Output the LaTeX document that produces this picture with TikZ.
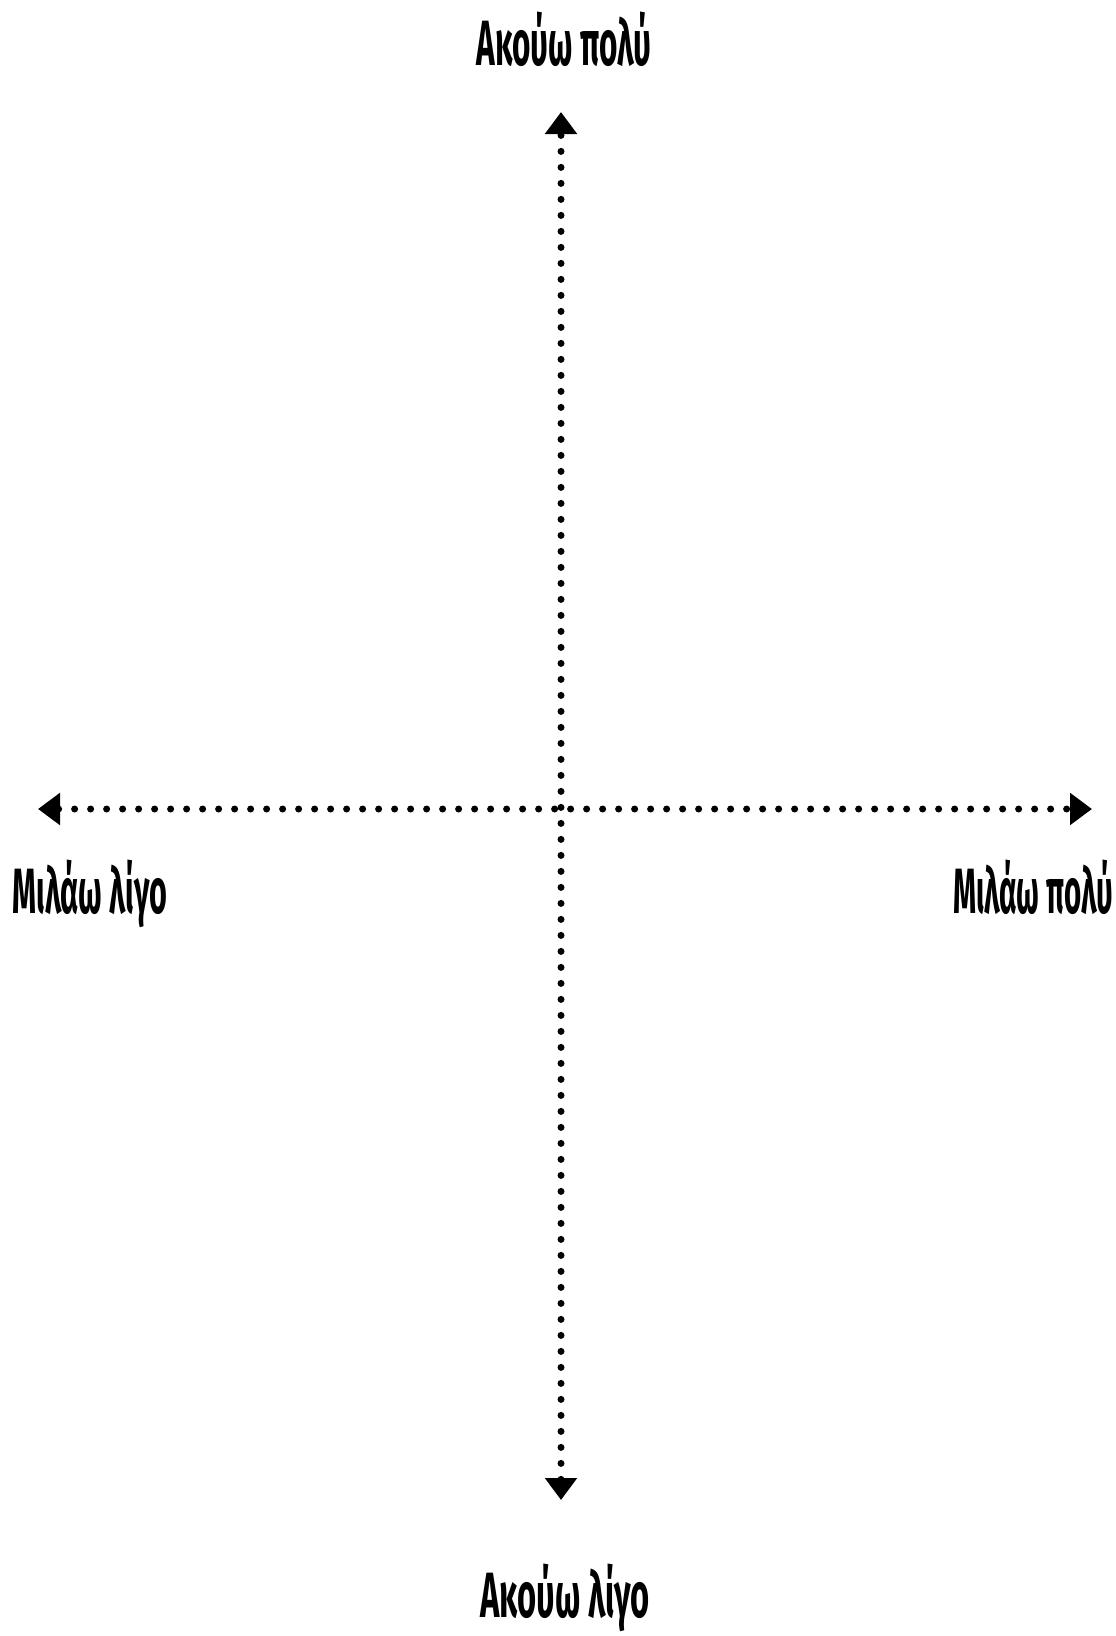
\documentclass[tikz,border=0pt]{standalone}
\usepackage{fontspec}
\setmainfont{Fira Sans}
\usetikzlibrary{arrows.meta}
\tikzset{
  tip/.tip={Triangle[width=31pt,length=22pt]},
  axis/.style={line width=7pt, line cap=round, dash pattern=on 0pt off 16pt, tip-tip},
  lbl/.style={anchor=base, inner sep=0pt, font=\fontsize{64}{70}\selectfont\bfseries}
}
\begin{document}
\begin{tikzpicture}[x=1pt,y=-1pt]
\useasboundingbox (0,0) rectangle (1116,1636);
\coordinate (top) at (561,112);
\coordinate (bot) at (561,1500);
\coordinate (left) at (38,809);
\coordinate (right) at (1092,809);
\draw[axis] (bot) -- (top);
\draw[axis] (left) -- (right);
\node[lbl] (tl) at (564,65) {\resizebox{175pt}{\height}{Ακούω πολύ}};
\node[lbl] (bl) at (565,1617) {\resizebox{170pt}{\height}{Ακούω λίγο}};
\node[lbl] (ll) at (90,913) {\resizebox{155pt}{\height}{Μιλάω λίγο}};
\node[lbl] (rl) at (1033,913) {\resizebox{160pt}{\height}{Μιλάω πολύ}};
\end{tikzpicture}
\end{document}
